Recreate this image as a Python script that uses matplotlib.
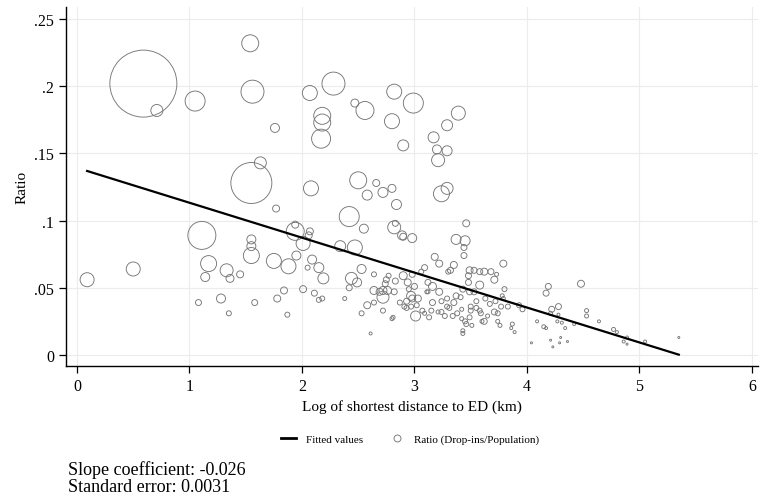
import numpy as np
import matplotlib
matplotlib.use("Agg")
import matplotlib.pyplot as plt
from matplotlib.lines import Line2D

# log distance (km), ratio drop-ins/population, relative population weight
log_dist = [
    0.59, 0.71, 1.05, 1.54, 1.56, 1.76, 2.07, 2.28, 2.47, 2.56,
    2.18, 2.18, 2.17, 1.63, 1.55, 2.08, 2.50, 2.66, 2.58, 2.82,
    2.99, 2.80, 3.39, 3.29, 2.90, 3.17, 3.20, 3.29, 3.21, 3.29,
    3.24, 2.80, 2.72, 2.84, 1.77, 2.42, 2.55, 2.82, 2.83, 2.89,
    2.90, 2.98, 3.46, 3.37, 3.45, 3.44, 3.44,
    0.09, 0.50, 1.11, 1.55, 1.55, 1.55, 1.17, 1.33, 1.14, 1.36,
    1.45, 1.28, 1.08, 1.35, 1.58, 1.75, 1.88, 1.94, 1.94, 2.01,
    2.07, 2.06, 1.95, 2.09, 2.05, 2.15, 2.19, 2.01, 1.84, 1.78,
    2.11, 2.15, 2.18, 1.87, 2.34, 2.47, 2.53, 2.44, 2.49, 2.42,
    2.38, 2.58, 2.64, 2.53, 2.61, 2.64, 2.64, 2.69, 2.72, 2.74,
    2.77, 2.83, 2.76, 2.82, 2.81, 2.80, 2.87, 2.90, 2.91, 2.72,
    2.75,
    3.18, 3.22, 3.35, 3.32, 3.79, 3.09, 3.49, 3.53, 3.62, 3.68,
    3.73, 3.71, 3.48, 3.58, 3.30,
    2.72, 2.94, 2.98, 3.06, 3.00, 2.95, 2.93, 2.97, 2.98, 2.93,
    2.97, 3.03, 3.02, 3.01, 3.07, 3.09, 3.13, 3.15, 3.16, 3.12,
    3.11, 3.12, 3.16, 3.22, 3.24, 3.21, 3.24, 3.27, 3.29, 3.31,
    3.29, 3.34, 3.35, 3.37, 3.38, 3.42, 3.41, 3.43, 3.42, 3.43,
    3.43, 3.45, 3.46, 3.49, 3.51, 3.49, 3.50, 3.50, 3.48, 3.53,
    3.55, 3.55, 3.58, 3.58, 3.59, 3.60, 3.62, 3.63, 3.65, 3.67,
    3.71, 3.72, 3.74, 3.74, 3.76, 3.77, 3.78, 3.79, 3.80, 3.83,
    3.86, 3.87, 3.89, 3.93, 3.96, 4.04, 4.09,
    4.48, 4.19, 4.17, 4.28, 4.22, 4.53, 4.53, 4.64, 4.77, 4.80,
    4.89, 4.86, 4.89, 5.05, 5.35, 4.21, 4.23, 4.30, 4.29, 4.36,
    4.15, 4.17, 4.27, 4.31, 4.34, 4.42, 4.21, 4.28,
]
ratio = [
    0.202, 0.182, 0.189, 0.232, 0.196, 0.169, 0.195, 0.202, 0.1875, 0.182,
    0.178, 0.173, 0.161, 0.143, 0.128, 0.124, 0.130, 0.128, 0.119, 0.196,
    0.1875, 0.174, 0.180, 0.171, 0.156, 0.162, 0.153, 0.152, 0.145, 0.124,
    0.120, 0.124, 0.121, 0.112, 0.109, 0.103, 0.094, 0.095, 0.098, 0.089,
    0.088, 0.087, 0.098, 0.086, 0.085, 0.080, 0.074,
    0.056, 0.064, 0.089, 0.086, 0.081, 0.074, 0.068, 0.063, 0.058, 0.057,
    0.060, 0.042, 0.039, 0.031, 0.039, 0.070, 0.066, 0.092, 0.097, 0.083,
    0.092, 0.089, 0.074, 0.071, 0.065, 0.065, 0.057, 0.049, 0.048, 0.042,
    0.046, 0.041, 0.042, 0.030, 0.081, 0.080, 0.064, 0.057, 0.054, 0.050,
    0.042, 0.037, 0.039, 0.031, 0.016, 0.060, 0.048, 0.047, 0.043, 0.053,
    0.059, 0.055, 0.048, 0.047, 0.028, 0.027, 0.039, 0.059, 0.036, 0.033,
    0.056,
    0.073, 0.068, 0.067, 0.063, 0.068, 0.065, 0.063, 0.063, 0.062, 0.062,
    0.060, 0.056, 0.059, 0.052, 0.062,
    0.048, 0.054, 0.060, 0.062, 0.051, 0.049, 0.040, 0.044, 0.042, 0.035,
    0.036, 0.042, 0.037, 0.029, 0.033, 0.031, 0.028, 0.033, 0.039, 0.054,
    0.047, 0.047, 0.051, 0.047, 0.040, 0.032, 0.032, 0.029, 0.036, 0.035,
    0.042, 0.029, 0.039, 0.044, 0.031, 0.034, 0.043, 0.049, 0.027, 0.018,
    0.016, 0.025, 0.023, 0.028, 0.022, 0.047, 0.036, 0.033, 0.054, 0.047,
    0.040, 0.035, 0.062, 0.033, 0.031, 0.025, 0.025, 0.042, 0.029, 0.038,
    0.032, 0.040, 0.031, 0.025, 0.022, 0.036, 0.044, 0.042, 0.049, 0.036,
    0.020, 0.023, 0.017, 0.037, 0.034, 0.009, 0.025,
    0.053, 0.051, 0.046, 0.036, 0.034, 0.033, 0.029, 0.025, 0.019, 0.017,
    0.013, 0.010, 0.008, 0.010, 0.013, 0.011, 0.006, 0.013, 0.009, 0.010,
    0.021, 0.020, 0.025, 0.024, 0.020, 0.023, 0.031, 0.030,
]
pop_weight = [
    4489, 144, 400, 289, 529, 81, 225, 529, 64, 324,
    289, 289, 361, 144, 1681, 225, 289, 49, 100, 225,
    400, 225, 196, 121, 121, 121, 81, 100, 169, 144,
    256, 64, 100, 100, 49, 400, 81, 169, 36, 81,
    49, 81, 49, 100, 100, 36, 36,
    196, 196, 784, 81, 81, 256, 256, 169, 81, 64,
    49, 81, 36, 25, 36, 225, 225, 324, 49, 196,
    49, 49, 81, 81, 25, 100, 121, 49, 49, 49,
    36, 25, 25, 25, 121, 225, 81, 144, 81, 36,
    16, 49, 25, 25, 9, 25, 64, 49, 144, 36,
    25, 36, 64, 36, 16, 16, 25, 64, 25, 25,
    36,
    49, 49, 49, 36, 49, 36, 49, 36, 49, 36,
    16, 49, 36, 64, 25,
    64, 49, 36, 25, 36, 25, 36, 81, 49, 25,
    25, 49, 25, 100, 25, 16, 25, 25, 36, 36,
    16, 16, 64, 49, 25, 16, 25, 25, 25, 25,
    25, 25, 36, 36, 25, 16, 25, 36, 16, 16,
    16, 25, 25, 25, 16, 36, 25, 25, 36, 36,
    25, 25, 36, 25, 25, 16, 36, 25, 16, 25,
    36, 25, 25, 16, 16, 25, 16, 16, 25, 25,
    9, 16, 9, 25, 25, 4, 9,
    49, 36, 36, 36, 36, 16, 16, 9, 16, 9,
    9, 9, 4, 9, 4, 4, 4, 4, 4, 4,
    16, 9, 9, 9, 9, 9, 16, 9,
]

slope = -0.026
intercept = 0.1393
std_err = 0.0031

xticks = [0, 1, 2, 3, 4, 5, 6]
yticks = [0, 0.05, 0.1, 0.15, 0.2, 0.25]
ytick_labels = ["0", ".05", ".1", ".15", ".2", ".25"]

plt.rcParams['font.family'] = ['Liberation Serif', 'DejaVu Serif']

x = np.array(log_dist)
y = np.array(ratio)
w = np.array(pop_weight, dtype=float)

fig = plt.figure(figsize=(7.6, 5.02), dpi=100)
ax = fig.add_axes([0.0868, 0.269, 0.910, 0.715])

# 散布図 (重み付きの白抜き円)
ax.scatter(x, y, s=w * 0.72 ** 2, facecolors='none', edgecolors='#767676',
           linewidths=0.65, zorder=3)

# 回帰直線
xf = np.array([x.min(), x.max()])
ax.plot(xf, intercept + slope * xf, color='black', lw=1.6, zorder=4)

ax.set_xlim(-0.098, 6.05)
ax.set_ylim(-0.0082, 0.259)
ax.set_xticks(xticks)
ax.set_yticks(yticks)
ax.set_yticklabels(ytick_labels)
ax.tick_params(labelsize=11.5, length=5, width=0.9, color='black')
ax.grid(True, color='#ececec', lw=0.8)
ax.set_axisbelow(True)
for s in ['top', 'right']:
    ax.spines[s].set_visible(False)
for s in ['left', 'bottom']:
    ax.spines[s].set_linewidth(1.0)

ax.set_xlabel('Log of shortest distance to ED (km)', fontsize=11)
ax.set_ylabel('Ratio', fontsize=11)

handles = [Line2D([], [], color='black', lw=2),
           Line2D([], [], marker='o', ls='none', mfc='none', mec='#767676',
                  markersize=5, mew=0.65)]
fig.legend(handles, ['Fitted values', 'Ratio (Drop-ins/Population)'],
           loc='center', bbox_to_anchor=(410 / 760, 0.123), ncol=2,
           frameon=False, fontsize=8, handlelength=1.35, handletextpad=0.9,
           columnspacing=2.4)

fig.text(68 / 760, 1 - 470 / 502, 'Slope coefficient: %.3f' % slope,
         fontsize=13, va='center')
fig.text(68 / 760, 1 - 488 / 502, 'Standard error: %.4f' % std_err,
         fontsize=13, va='center')

fig.savefig('out.png', dpi=100)
